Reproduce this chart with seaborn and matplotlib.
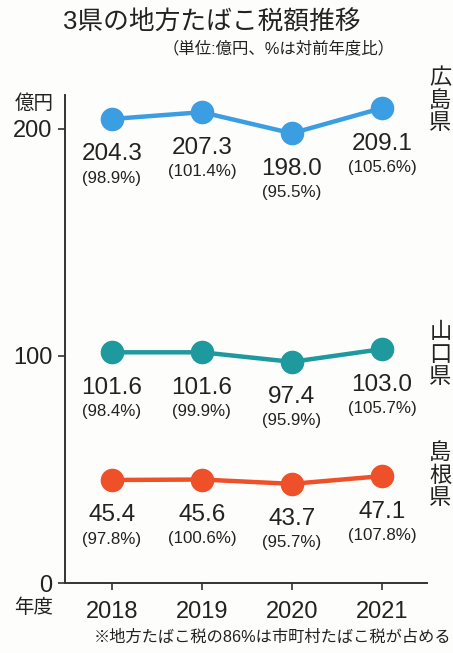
import seaborn as sns
import matplotlib.pyplot as plt
import pandas as pd

sns.set_theme(style="white")
plt.rcParams['font.family'] = ['Liberation Sans', 'Noto Sans CJK JP', 'DejaVu Sans']

# data
years = [2018, 2019, 2020, 2021]
prefs = ['広島県', '山口県', '島根県']
hiroshima = [204.3, 207.3, 198.0, 209.1]
hiroshima_pct = [98.9, 101.4, 95.5, 105.6]
yamaguchi = [101.6, 101.6, 97.4, 103.0]
yamaguchi_pct = [98.4, 99.9, 95.9, 105.7]
shimane = [45.4, 45.6, 43.7, 47.1]
shimane_pct = [97.8, 100.6, 95.7, 107.8]
colors = ['#3b9de2', '#1e9a9e', '#ee5029']

values = {'広島県': hiroshima, '山口県': yamaguchi, '島根県': shimane}
pcts = {'広島県': hiroshima_pct, '山口県': yamaguchi_pct, '島根県': shimane_pct}
df = pd.DataFrame([(p, y, v) for p in prefs for y, v in zip(years, values[p])],
                  columns=['pref', 'year', 'value'])

fig = plt.figure(figsize=(4.53, 6.53), dpi=100)
fig.patch.set_facecolor('#fdfdfb')
ax = fig.add_axes([0.1435, 0.107, 0.799, 0.748])
ax.set_facecolor('#fdfdfb')

sns.lineplot(data=df, x='year', y='value', hue='pref', palette=colors,
             marker='o', markersize=17, markeredgewidth=0, linewidth=3.2,
             legend=False, ax=ax)

# value and percent labels under each point
for p in prefs:
    for y, v, pc in zip(years, values[p], pcts[p]):
        ax.annotate(f'{v:.1f}', (y, v), xytext=(0, -25.5), textcoords='offset points',
                    ha='center', va='center', fontsize=17.5, color='#222222')
        ax.annotate(f'({pc:.1f}%)', (y, v), xytext=(0, -42.5), textcoords='offset points',
                    ha='center', va='center', fontsize=12.2, color='#222222')

ax.set_xlim(2017.48, 2021.5)
ax.set_ylim(0, 215)
ax.set_xticks(years)
ax.set_yticks([0, 100, 200])
ax.set_xlabel('')
ax.set_ylabel('')
for s in ['top', 'right']:
    ax.spines[s].set_visible(False)
for s in ['left', 'bottom']:
    ax.spines[s].set_color('#333333')
    ax.spines[s].set_linewidth(1.4)
ax.tick_params(axis='both', direction='out', length=5, width=1.2, color='#333333',
               labelsize=17, labelcolor='#222222', left=True, bottom=True)
ax.tick_params(axis='x', pad=8)
ax.tick_params(axis='y', pad=4)

# texts
fig.text(0.468, 0.966, '3県の地方たばこ税額推移', ha='center', va='center',
         fontsize=18.5, color='#222222')
fig.text(0.614, 0.926, '（単位:億円、%は対前年度比）', ha='center', va='center',
         fontsize=11.8, color='#222222')
fig.text(0.075, 0.842, '億円', ha='center', va='center', fontsize=14, color='#222222')
fig.text(0.075, 0.069, '年度', ha='center', va='center', fontsize=14, color='#222222')
fig.text(0.997, 0.024, '※地方たばこ税の86%は市町村たばこ税が占める', ha='right', va='center',
         fontsize=11.7, color='#222222')
label_y = [0.845, 0.456, 0.271]
for p, ly in zip(prefs, label_y):
    fig.text(0.972, ly, '\n'.join(p), ha='center', va='center', fontsize=16,
             linespacing=1.1, color='#222222')

fig.savefig('out.png', dpi=100, facecolor=fig.get_facecolor())
